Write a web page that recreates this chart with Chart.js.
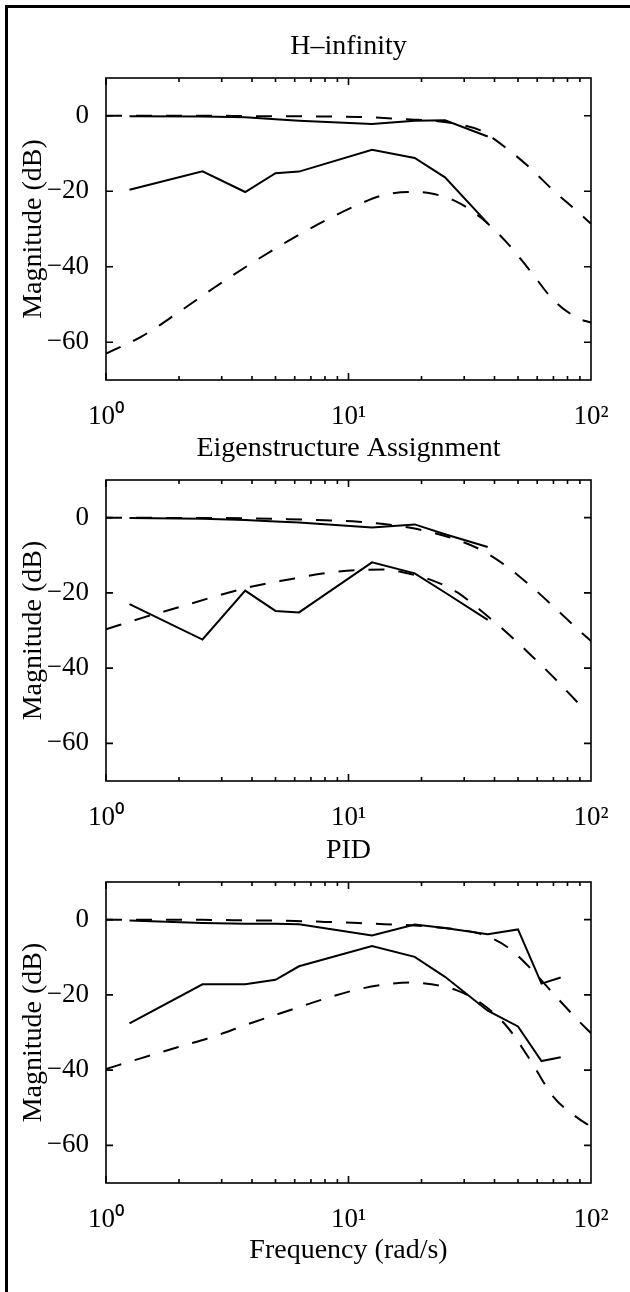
<!DOCTYPE html>
<html>
<head>
<meta charset="utf-8">
<script src="https://cdn.jsdelivr.net/npm/chart.js@4.4.1/dist/chart.umd.min.js"></script>
<style>
  html, body { margin: 0; padding: 0; background: #fff; }
  #figure { position: relative; width: 630px; height: 1292px; overflow: hidden; }
  #frame { position: absolute; left: 5px; top: 5px; right: -10px; bottom: -10px;
           border-left: 3px solid #000; border-top: 3px solid #000; }
  .panel { position: absolute; left: 0; width: 630px; }
</style>
</head>
<body>
<div id="figure">
  <div id="frame"></div>
  <div class="panel" style="top:0;height:440px"><canvas id="hinf"></canvas></div>
  <div class="panel" style="top:402px;height:440px"><canvas id="eig"></canvas></div>
  <div class="panel" style="top:804px;height:488px"><canvas id="pid"></canvas></div>
</div>
<script>
// test points (solid lines), rad/s
const testFreq = [1.25, 2.5, 3.75, 5, 6.25, 12.5, 18.75, 25, 37.5, 50, 62.5, 75];
// model curves (dashed lines), rad/s
const modelFreq = [1, 1.4, 2, 2.8, 4, 5.6, 8, 11, 14, 18, 22, 28, 35, 45, 56, 70, 88, 100];

// H-infinity (dB)
const hinfTestUpper = [-0.1, -0.2, -0.4, -0.9, -1.3, -2.2, -1.3, -1.2, -5.5];
const hinfTestLower = [-19.6, -14.7, -20.2, -15.2, -14.8, -9.0, -11.2, -16.3, -28.5];
const hinfModelUpper = [0, 0, 0, 0, -0.1, -0.1, -0.2, -0.3, -0.6, -1.0, -1.3, -2.2, -3.9, -8.7, -13.8, -19.8, -25.4, -28.6];
const hinfModelLower = [-63, -58.5, -52, -45.5, -39, -33.3, -27.8, -23.5, -21.0, -20.2, -20.6, -22.8, -26.9, -33.6, -41.0, -48.8, -53.6, -54.8];

// Eigenstructure assignment (dB)
const eigTestUpper = [-0.1, -0.3, -0.6, -1.0, -1.3, -2.6, -1.8, -4.4, -7.8];
const eigTestLower = [-23.0, -32.4, -19.4, -24.8, -25.2, -11.9, -14.8, -19.9, -27.2];
const eigModelUpper = [0, 0, -0.1, -0.1, -0.2, -0.4, -0.7, -1.1, -1.7, -2.7, -3.9, -5.9, -8.5, -13.0, -18.0, -23.6, -29.6, -32.8];
const eigModelLower = [-29.7, -26.7, -23.8, -21.0, -18.3, -16.5, -14.8, -13.9, -13.8, -15.0, -16.6, -19.8, -24.6, -30.6, -36.3, -42.4, -49.1];

// PID (dB)
const pidTestUpper = [-0.2, -0.9, -1.1, -1.1, -1.2, -4.2, -1.3, -2.2, -3.9, -2.6, -17.0, -15.4];
const pidTestLower = [-27.6, -17.2, -17.2, -16.0, -12.4, -7.0, -9.9, -15.2, -24.2, -28.4, -37.6, -36.6];
const pidModelUpper = [0, 0, 0, -0.1, -0.2, -0.3, -0.6, -0.9, -1.2, -1.5, -1.9, -2.6, -3.8, -7.2, -12.8, -19.7, -26.6, -30.2];
const pidModelLower = [-39.7, -36.8, -33.8, -31.0, -27.4, -24.3, -21.0, -18.5, -17.3, -16.7, -17.2, -18.8, -22.1, -28.4, -37.2, -47.1, -52.7, -55.0];

// axis ticks
const freqTicks = [1, 10, 100];
const freqTickLabels = ['10\u2070', '10\u00B9', '10\u00B2'];
const magTicks = [-60, -40, -20, 0];

const FONT = 'Liberation Serif, Times New Roman, serif';

function pts(freq, vals) {
    return vals.map((v, i) => ({ x: freq[i], y: v }));
}

// box round the axes and ticks pointing inwards, like matlab
const insideTicks = {
    id: 'insideTicks',
    afterDatasetsDraw(chart) {
        const { ctx, chartArea: a, scales: { x, y } } = chart;
        ctx.save();
        ctx.strokeStyle = '#000';
        ctx.lineWidth = 1.6;
        ctx.strokeRect(a.left, a.top, a.right - a.left, a.bottom - a.top);
        ctx.beginPath();
        for (let d = 1; d < 100; d *= 10) {
            for (let k = 1; k < 10; k++) {
                const px = x.getPixelForValue(k * d);
                const len = k === 1 ? 7 : 4;
                ctx.moveTo(px, a.bottom); ctx.lineTo(px, a.bottom - len);
                ctx.moveTo(px, a.top); ctx.lineTo(px, a.top + len);
            }
        }
        y.ticks.forEach(t => {
            const py = y.getPixelForValue(t.value);
            ctx.moveTo(a.left, py); ctx.lineTo(a.left + 7, py);
            ctx.moveTo(a.right, py); ctx.lineTo(a.right - 7, py);
        });
        ctx.stroke();
        ctx.restore();
    }
};

function makeChart(id, title, testUpper, testLower, modelUpper, modelLower, axisHeight, showXTitle) {
    const solid = { borderColor: '#000', borderWidth: 2, pointRadius: 0, tension: 0, fill: false };
    const dashed = { borderColor: '#000', borderWidth: 2, pointRadius: 0, borderDash: [16, 14],
                     cubicInterpolationMode: 'monotone', fill: false };

    new Chart(document.getElementById(id), {
        type: 'line',
        data: {
            datasets: [
                { ...dashed, data: pts(modelFreq, modelUpper) },
                { ...dashed, data: pts(modelFreq, modelLower) },
                { ...solid, data: pts(testFreq, testUpper) },
                { ...solid, data: pts(testFreq, testLower) }
            ]
        },
        options: {
            responsive: true,
            maintainAspectRatio: false,
            animation: false,
            layout: { padding: { top: 0, left: 0, right: 39, bottom: 0 } },
            plugins: {
                legend: { display: false },
                tooltip: { enabled: false },
                title: {
                    display: true,
                    text: title,
                    fullSize: false,
                    color: '#000',
                    font: { family: FONT, size: 28, weight: 'normal' },
                    padding: { top: 30, bottom: 14.4 }
                }
            },
            scales: {
                x: {
                    type: 'logarithmic',
                    min: 1,
                    max: 100,
                    grid: { display: false },
                    border: { display: false },
                    afterBuildTicks: scale => { scale.ticks = freqTicks.map(v => ({ value: v, major: true })); },
                    afterFit: scale => { scale.height = axisHeight; },
                    ticks: {
                        autoSkip: false,
                        maxRotation: 0,
                        padding: 13,
                        color: '#000',
                        font: { family: FONT, size: 27 },
                        callback: v => freqTickLabels[freqTicks.indexOf(v)]
                    },
                    title: {
                        display: showXTitle,
                        text: 'Frequency (rad/s)',
                        color: '#000',
                        font: { family: FONT, size: 28 },
                        padding: { top: 0, bottom: 25 }
                    }
                },
                y: {
                    min: -70,
                    max: 10,
                    grid: { display: false },
                    border: { display: false },
                    afterBuildTicks: scale => { scale.ticks = magTicks.map(v => ({ value: v })); },
                    afterFit: scale => { scale.width = 106; },
                    ticks: {
                        padding: 9,
                        color: '#000',
                        font: { family: FONT, size: 27 },
                        callback: v => (v === 0 ? '0' : '\u2212' + Math.abs(v))
                    },
                    title: {
                        display: true,
                        text: 'Magnitude (dB)',
                        color: '#000',
                        font: { family: FONT, size: 28 },
                        padding: { top: 17, bottom: 0 }
                    }
                }
            }
        },
        plugins: [insideTicks]
    });
}

makeChart('hinf', 'H\u2013infinity', hinfTestUpper, hinfTestLower, hinfModelUpper, hinfModelLower, 60, false);
makeChart('eig', 'Eigenstructure Assignment', eigTestUpper, eigTestLower, eigModelUpper, eigModelLower, 61, false);
makeChart('pid', 'PID', pidTestUpper, pidTestLower, pidModelUpper, pidModelLower, 109, true);
</script>
</body>
</html>
